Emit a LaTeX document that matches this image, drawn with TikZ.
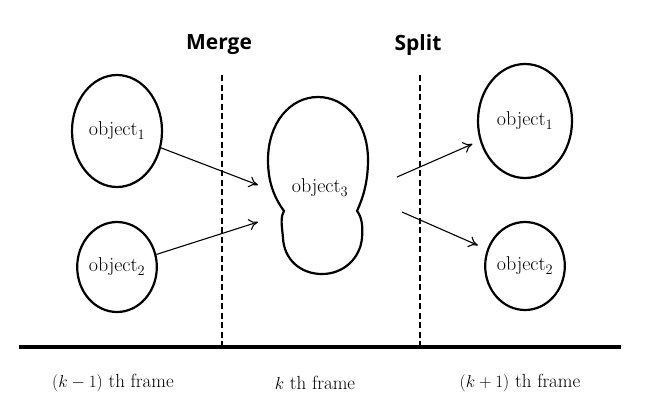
\documentclass[tikz,border=0pt]{standalone}
\usepackage{fontspec}
\newfontfamily\headfont{Open Sans}
\usetikzlibrary{positioning,arrows.meta,shapes.geometric}
\tikzset{
  >={To[length=3.2mm,width=4mm]},
  blob/.style={draw, ellipse, line width=2.2pt, inner sep=0pt, font=\fontsize{20}{24}\selectfont},
  head/.style={font=\headfont\bfseries\fontsize{21}{24}\selectfont},
  frm/.style={font=\fontsize{19}{22}\selectfont},
  sep/.style={line width=1.4pt, dash pattern=on 6pt off 3.5pt},
  l/.style={->, line width=1.1pt},
}
\begin{document}
\begin{tikzpicture}[x=1pt,y=-1pt]
  \useasboundingbox (0,0) rectangle (647,405);
  % time axis and frame borders
  \node[inner sep=0pt] (ax0) at (18,347) {};
  \node[inner sep=0pt] (ax1) at (622,347) {};
  \draw[line width=3.6pt] (ax0) -- (ax1);
  \coordinate (mtop) at (222,75);
  \coordinate (mbot) at (222,347);
  \coordinate (stop) at (420,75);
  \coordinate (sbot) at (420,347);
  \draw[sep] (mtop) -- (mbot);
  \draw[sep] (stop) -- (sbot);
  \node[head] (merge) at (219,45) {Merge};
  \node[head] (split) at (418,45) {Split};
  % objects
  \node[blob, minimum width=90pt, minimum height=112pt] (o1a) at (117,131) {object$_1$};
  \node[blob, minimum width=72pt, minimum height=90pt] (o2a) at (117,267) {object$_2$};
  \draw[line width=2.2pt] (284,211) .. controls (273,196) and (268,180) .. (268,160)
    .. controls (268,123) and (290,97) .. (318,97)
    .. controls (346,97) and (368,123) .. (368,160)
    .. controls (368,182) and (363,198) .. (357,211)
    .. controls (362,217) and (363,227) .. (362,238)
    .. controls (360,259) and (343,274) .. (322,274)
    .. controls (300,274) and (284,259) .. (283,238)
    .. controls (282,226) and (280,218) .. (284,211) -- cycle;
  \node[font=\fontsize{20}{24}\selectfont] (o3) at (320,188) {object$_3$};
  \node[blob, minimum width=94pt, minimum height=114pt] (o1b) at (525,121) {object$_1$};
  \node[blob, minimum width=70pt, minimum height=88pt] (o2b) at (525,266) {object$_2$};
  % merge and split arrows
  \coordinate (m1) at (258,185);
  \coordinate (m2) at (258,222);
  \coordinate (s1) at (397,177);
  \coordinate (s2) at (402,212);
  \draw[l] (o1a) -- (m1);
  \draw[l] (o2a) -- (m2);
  \draw[l, shorten >=8pt] (s1) -- (o1b);
  \draw[l, shorten >=10pt] (s2) -- (o2b);
  % frame labels
  \node[frm] (f0) at (113,383) {$(k-1)$ th frame};
  \node[frm] (f1) at (315,383) {$k$ th frame};
  \node[frm] (f2) at (520,383) {$(k+1)$ th frame};
\end{tikzpicture}
\end{document}
